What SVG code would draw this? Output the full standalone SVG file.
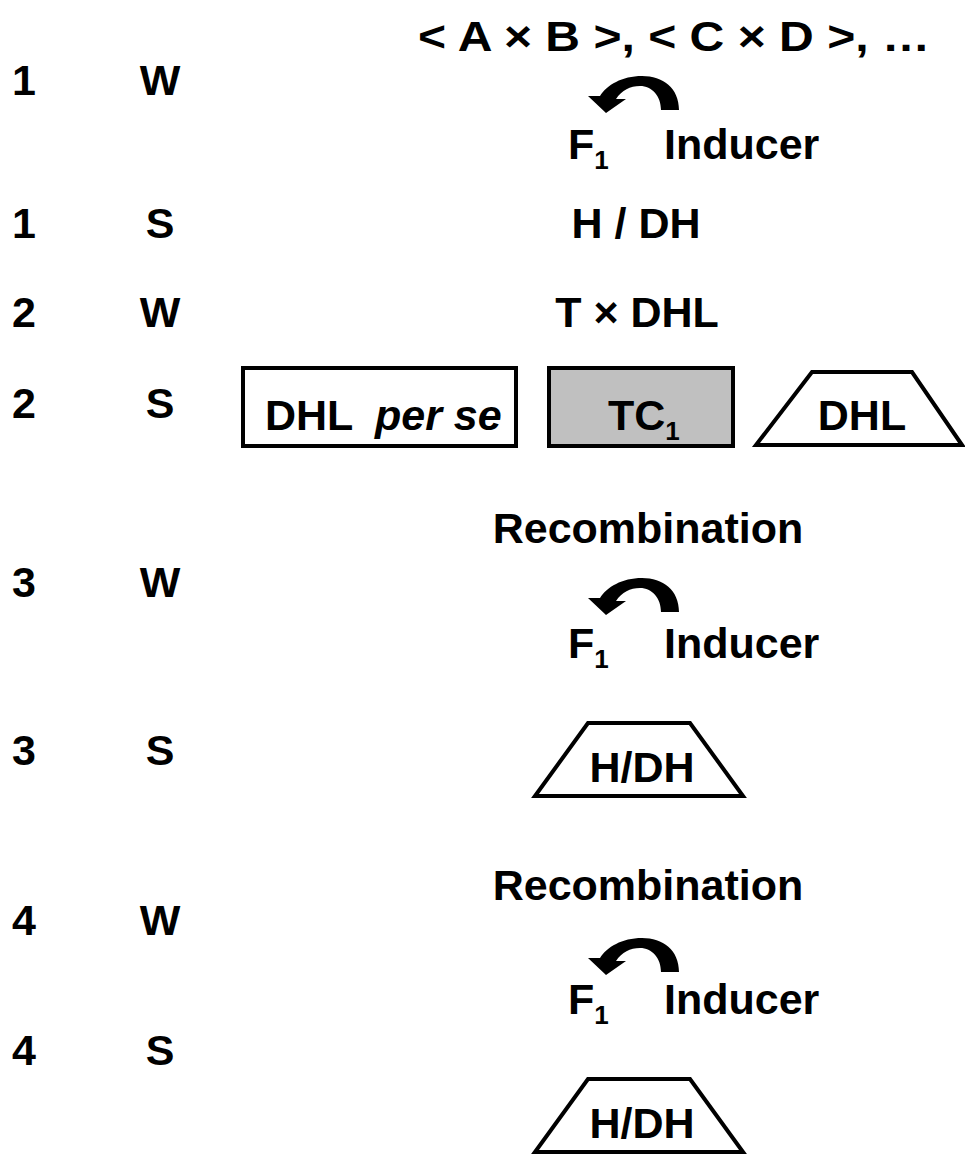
<svg xmlns="http://www.w3.org/2000/svg" width="965" height="1168" viewBox="0 0 965 1168">
<style>
text{font-family:"Liberation Sans",Arial,sans-serif;font-weight:bold;font-size:43px;fill:#000}
.sub{font-size:26px}
.mid{text-anchor:middle}
.box{fill:#fff;stroke:#000;stroke-width:4}
.gray{fill:#c0c0c0;stroke:#000;stroke-width:4}
</style>
<defs>
<path id="curl" d="M 679,110 C 679,88 663,76 642,76 C 622,76 607,85 600,96 L 588,96 L 606,113 L 626,99 L 616,99 C 622,90 630,86 640,86 C 652,86 661,96 661,110 Z" fill="#000"/>
</defs>
<rect width="965" height="1168" fill="#fff"/>
<g id="labels">
<text x="12" y="95">1</text><text x="160" y="95" class="mid">W</text>
<text x="12" y="238">1</text><text x="160" y="238" class="mid">S</text>
<text x="12" y="327">2</text><text x="160" y="327" class="mid">W</text>
<text x="12" y="418">2</text><text x="160" y="418" class="mid">S</text>
<text x="12" y="597">3</text><text x="160" y="597" class="mid">W</text>
<text x="12" y="765">3</text><text x="160" y="765" class="mid">S</text>
<text x="12" y="935">4</text><text x="160" y="935" class="mid">W</text>
<text x="12" y="1065">4</text><text x="160" y="1065" class="mid">S</text>
</g>
<g id="header"><text x="418" y="51" font-size="44" textLength="512" lengthAdjust="spacingAndGlyphs">&lt; A × B &gt;, &lt; C × D &gt;, …</text></g>
<g id="induce1">
<use href="#curl"/>
<text x="568" y="159">F<tspan class="sub" dy="10">1</tspan></text>
<text x="664" y="159">Inducer</text>
</g>
<g id="hdh1"><text x="636" y="238" class="mid">H / DH</text></g>
<g id="cross"><text x="637" y="327" class="mid">T × DHL</text></g>
<g id="dhl-per-se">
<rect x="243" y="368" width="273" height="78" class="box"/>
<text x="265" y="430">DHL<tspan x="375" font-style="italic">per se</tspan></text>
</g>
<g id="tc1">
<rect x="549" y="368" width="184" height="78" class="gray"/>
<text x="608" y="430">TC<tspan class="sub" dy="10">1</tspan></text>
</g>
<g id="dhl-trap">
<polygon points="812,372 912,372 962,445 756,445" class="box"/>
<text x="862" y="430" class="mid">DHL</text>
</g>
<g id="recomb1"><text x="648" y="543" class="mid">Recombination</text></g>
<g id="induce2" transform="translate(0,502)">
<use href="#curl"/>
<text x="568" y="156">F<tspan class="sub" dy="10">1</tspan></text>
<text x="664" y="156">Inducer</text>
</g>
<g id="hdh2">
<polygon points="588,723 690,723 743,796 535,796" class="box"/>
<text x="642" y="782" class="mid">H/DH</text>
</g>
<g id="recomb2"><text x="648" y="900" class="mid">Recombination</text></g>
<g id="induce3" transform="translate(0,862)">
<use href="#curl"/>
<text x="568" y="152">F<tspan class="sub" dy="10">1</tspan></text>
<text x="664" y="152">Inducer</text>
</g>
<g id="hdh3">
<polygon points="588,1079 690,1079 743,1152 535,1152" class="box"/>
<text x="642" y="1138" class="mid">H/DH</text>
</g>
</svg>
